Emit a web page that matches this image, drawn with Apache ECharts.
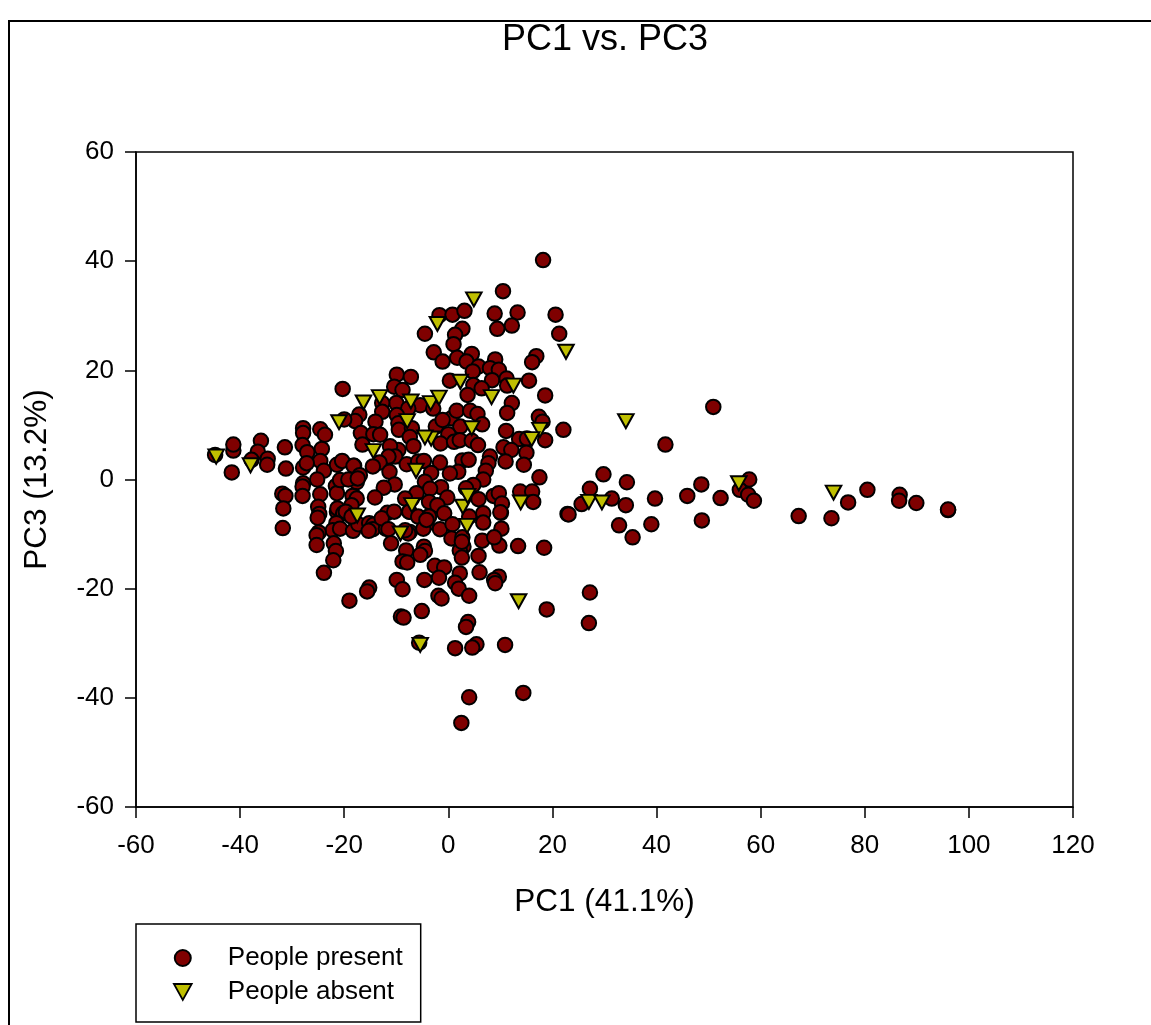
<!DOCTYPE html>
<html><head><meta charset="utf-8">
<style>html,body{margin:0;padding:0;background:#fff}#c{width:1151px;height:1025px}</style>
<script src="https://cdn.jsdelivr.net/npm/echarts@6/dist/echarts.min.js"></script>
</head><body><div id="c"></div>
<script>
const titleText = "PC1 vs. PC3";
const xName = "PC1 (41.1%)";
const yName = "PC3 (13.2%)";
const seriesNames = ["People present", "People absent"];
const xRange = [-60, 120];
const yRange = [-60, 60];
const tickStep = 20;
const peoplePresent = [
[18.2,40.2],[10.5,34.5],[-1.7,30.1],[0.8,30.2],[3.1,30.9],[8.9,30.4],[13.3,30.6],[9.4,27.6],[12.2,28.2],[20.6,30.2],[21.3,26.7],[-4.5,26.7],
[2.7,27.6],[1.3,26.5],[1.0,24.8],[-2.8,23.3],[-1.1,21.6],[1.7,22.3],[4.5,23.0],[3.5,21.6],[5.8,20.7],[4.7,19.8],[9.0,22.0],[8.0,20.4],[9.7,20.1],[16.9,22.6],[16.1,21.5],
[0.3,18.1],[8.4,18.2],[11.2,18.5],[15.5,18.1],[4.8,17.3],[6.4,16.7],[11.3,17.2],[18.6,15.4],[3.7,15.5],[12.2,14.0],[11.3,12.2],
[-9.9,19.2],[-7.2,18.8],[-10.4,17.0],[-8.8,16.4],[-20.3,16.6],[-10.0,14.0],[-5.4,13.6],[-7.7,13.0],[-2.9,13.0],[-12.7,14.0],[-12.7,12.4],
[-17.1,11.9],[-17.9,10.7],[-20.0,11.0],[-14.0,10.6],[-9.9,11.8],[-9.6,10.3],[-9.5,9.1],[-7.0,9.4],[-16.8,8.5],[-14.4,8.3],[-13.1,8.2],[-16.5,6.4],
[-7.4,7.8],[-6.7,6.1],[-9.6,5.4],[-11.2,6.1],[-10.2,4.2],[-11.5,4.2],[-13.2,3.1],[-14.5,2.4],[-11.3,1.4],[-8.0,2.8],[-5.8,3.3],[-4.7,3.4],
[-10.3,-0.9],[-12.4,-1.5],[-14.1,-3.3],[-18.1,2.5],[-17.6,-0.5],[-18.2,-3.0],[-2.4,9.7],[0.6,11.2],[-1.1,10.9],[1.6,12.6],[4.2,12.6],[5.6,12.0],[6.5,10.1],[2.3,9.7],
[0.0,8.3],[-1.5,6.6],[1.1,6.9],[2.2,7.2],[4.5,7.1],[5.7,6.3],[11.1,8.9],[13.6,7.4],[15.1,7.5],[18.6,7.2],[22.1,9.1],[17.4,11.5],[18.1,10.6],
[10.6,5.9],[12.1,5.4],[15.0,4.9],[11.0,3.3],[14.5,2.7],[8.0,4.2],[7.7,3.0],[7.2,1.6],[6.7,0.0],[2.7,3.5],[3.9,3.6],[-1.6,3.1],[-3.3,1.2],[1.9,1.4],[0.3,1.1],
[-4.5,-0.4],[4.8,-1.0],[3.4,-1.6],[-1.4,-1.4],[-3.5,-1.7],[-0.2,-3.3],[5.8,-3.6],[-3.7,-4.1],[8.7,-3.0],[9.7,-2.5],[10.3,-4.4],[6.7,-6.2],[10.1,-6.1],
[17.5,0.4],[13.8,-2.2],[16.1,-2.2],[16.3,-4.1],[-7.0,-3.5],[-6.1,-2.5],[-8.3,-3.5],[-2.1,-4.7],[-0.8,-6.2],[-11.7,-6.1],[-7.5,-5.9],[-3.8,-6.8],[4.0,-6.8],
[-44.8,4.5],[-41.3,5.3],[-41.3,6.4],[-41.6,1.3],[-36.0,7.1],[-36.6,5.1],[-37.8,3.6],[-34.7,3.8],[-34.8,2.7],[-31.4,5.9],[-31.2,2.0],
[-27.9,9.4],[-27.9,8.5],[-28.0,6.3],[-27.1,5.0],[-24.3,5.6],[-24.6,9.2],[-23.7,8.2],[-24.6,3.4],[-23.9,1.6],[-27.9,2.2],[-27.2,3.0],[-21.4,2.7],[-20.4,3.4],[-18.2,2.5],
[-25.2,0.0],[-27.9,-0.7],[-28.0,-1.3],[-28.0,-3.0],[-31.9,-2.6],[-31.3,-3.0],[-31.7,-5.3],[-31.8,-8.9],[-24.6,-2.7],[-25.0,-5.0],[-24.8,-6.3],[-25.1,-7.0],
[-21.6,-1.2],[-21.4,-2.5],[-20.8,-0.1],[-19.2,0.0],[-17.0,0.8],[-17.4,0.2],[-18.4,-3.0],[-17.6,-3.5],[-18.6,-4.7],[-21.4,-5.9],[-21.3,-5.3],[-20.2,-6.2],[-19.7,-5.9],
[-21.5,-8.0],[-22.2,-9.3],[-20.8,-9.0],[-18.3,-9.4],[-17.3,-8.2],[-18.6,-6.8],[-15.2,-8.0],[-14.4,-8.3],[-14.5,-9.1],[-15.3,-9.4],[-12.0,-9.0],[-12.8,-7.1],[-10.4,-5.9],[-11.5,-9.1],
[-24.9,-9.7],[-25.3,-10.2],[-25.3,-12.0],[-22.0,-11.7],[-21.6,-13.1],[-22.1,-14.8],[-23.9,-17.1],[-11.0,-11.7],[-7.4,-9.6],[-7.7,-9.9],[-8.3,-9.3],[-7.5,-5.9],
[-5.8,-6.8],[-4.2,-8.2],[-3.7,-6.8],[-4.8,-9.0],[-4.2,-7.4],[-1.6,-9.1],[0.8,-8.2],[0.6,-10.8],[2.7,-10.6],[2.9,-12.3],[2.2,-13.0],[2.6,-14.3],
[-8.1,-13.0],[-4.7,-12.3],[-4.5,-13.1],[-5.4,-13.8],[-8.8,-15.0],[-7.9,-15.2],[-2.6,-15.8],[-0.8,-16.1],[-1.8,-18.0],[2.2,-17.2],
[-9.9,-18.4],[-8.8,-20.1],[-4.6,-18.4],[1.3,-18.9],[2.0,-20.0],[4.0,-21.3],[-1.9,-21.3],[-1.3,-21.8],[-15.2,-19.8],[-15.6,-20.5],[-19.0,-22.2],
[-9.1,-25.1],[-8.6,-25.3],[-5.1,-24.1],[3.8,-26.1],[3.4,-27.0],[-5.6,-29.9],[1.3,-30.9],[5.4,-30.2],[4.6,-30.8],[10.9,-30.3],[14.4,-39.1],[4.0,-39.9],[2.5,-44.6],
[6.5,-11.2],[9.8,-12.1],[13.4,-12.2],[18.4,-12.5],[5.8,-14.0],[6.0,-17.0],[9.7,-17.8],[8.8,-18.4],[9.0,-19.0],[18.9,-23.8],[22.9,-6.3],[6.7,-7.9],[10.0,-6.0],[10.2,-9.0],[8.8,-10.6],[2.6,-11.4],
[27.2,-20.7],[27.0,-26.3],
[50.9,13.3],[41.7,6.4],[29.8,0.95],[34.3,-0.5],[27.2,-1.7],[31.4,-3.5],[39.7,-3.5],[34.1,-4.7],[25.6,-4.5],[23.1,-6.4],[45.9,-3.0],[48.6,-0.9],[52.3,-3.4],[48.7,-7.5],[39.0,-8.2],[32.8,-8.4],[35.4,-10.6],
[57.8,0.0],[56.0,-1.9],[57.6,-2.8],[58.7,-3.9],[67.3,-6.7],[73.6,-7.1],[76.8,-4.2],[80.5,-1.9],[86.7,-2.8],[86.6,-3.9],[89.9,-4.3],[96.0,-5.6],[96.0,-5.5]
];
const peopleAbsent = [
[-44.6,4.2],[-38.0,2.6],[-21.0,10.5],[-16.3,14.1],[-13.2,15.1],[-14.4,5.2],[-17.5,-6.6],[-9.2,-9.9],[-7.0,-4.7],[2.8,-5.0],[3.6,-8.5],[13.9,-4.2],[13.5,-22.3],[-5.4,-30.3],
[4.9,33.0],[-2.1,28.5],[22.6,23.4],[2.3,17.9],[12.5,17.2],[8.3,15.1],[-7.2,14.3],[-3.4,14.0],[-1.8,15.0],[-7.9,10.7],[4.5,9.4],[17.6,9.1],[16.0,7.4],[-3.3,7.5],[-4.5,7.7],[-6.2,1.6],[3.7,-3.0],[27.0,-4.1],[29.5,-4.2],[34.1,10.7],[55.8,-0.7],[74.0,-2.4]
];
const chart = echarts.init(document.getElementById('c'), null, {renderer:'canvas'});
const FONT = '"Liberation Sans", Arial, sans-serif';
const downTriangle = 'path://M0,0L2,0L1,1.8Z';
chart.setOption({
  animation:false,
  backgroundColor:'#fff',
  title:{text:titleText,left:600,top:17,textAlign:'center',textStyle:{fontFamily:FONT,fontSize:36,fontWeight:'normal',color:'#000'}},
  grid:{left:136,right:78,top:152,bottom:218,show:true,borderColor:'#000',borderWidth:1.5,backgroundColor:'transparent'},
  xAxis:{type:'value',min:xRange[0],max:xRange[1],interval:tickStep,name:xName,nameLocation:'middle',nameGap:79,
    nameTextStyle:{fontFamily:FONT,fontSize:31.5,color:'#000'},
    axisLine:{onZero:false,lineStyle:{color:'#000',width:1.5}},axisTick:{length:11,lineStyle:{color:'#000',width:1.5}},
    axisLabel:{fontFamily:FONT,fontSize:26,color:'#000',margin:26,hideOverlap:false},splitLine:{show:false}},
  yAxis:{type:'value',min:yRange[0],max:yRange[1],interval:tickStep,name:yName,nameLocation:'middle',nameGap:83,
    nameTextStyle:{fontFamily:FONT,fontSize:31.5,color:'#000'},
    axisLine:{onZero:false,lineStyle:{color:'#000',width:1.5}},axisTick:{length:11,lineStyle:{color:'#000',width:1.5}},
    axisLabel:{fontFamily:FONT,fontSize:26,color:'#000',margin:22,hideOverlap:false},splitLine:{show:false}},
  legend:{orient:'vertical',left:136,top:924,padding:[21,18,17,37],itemWidth:30,itemHeight:16,itemGap:8,
    borderColor:'#000',borderWidth:1.5,backgroundColor:'#fff',
    textStyle:{fontFamily:FONT,fontSize:26,color:'#000',padding:[0,0,0,25],lineHeight:25},
    data:[{name:seriesNames[0]},{name:seriesNames[1],icon:downTriangle,itemStyle:{borderWidth:1.8}}]},
  graphic:[
    {type:'polyline',silent:true,shape:{points:[[9,1025],[9,21],[1151,21]]},style:{stroke:'#000',lineWidth:2,fill:null}}
  ],
  series:[
    {name:seriesNames[0],type:'scatter',data:peoplePresent,symbol:'circle',symbolSize:14.5,
     itemStyle:{color:'#7f0000',borderColor:'#000',borderWidth:2,opacity:1}},
    {name:seriesNames[1],type:'scatter',data:peopleAbsent,symbol:downTriangle,symbolSize:[15.5,14],
     itemStyle:{color:'#bfbf00',borderColor:'#000',borderWidth:2,borderJoin:'miter',opacity:1}}
  ]
});
</script></body></html>
